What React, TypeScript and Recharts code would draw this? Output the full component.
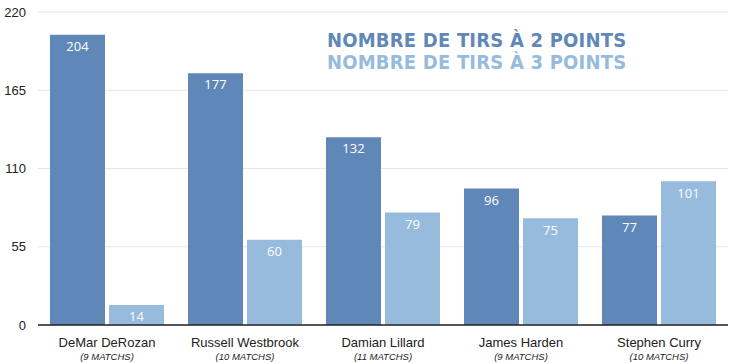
import { Bar, BarChart, CartesianGrid, LabelList, XAxis, YAxis } from 'recharts';

const players = ['DeMar DeRozan', 'Russell Westbrook', 'Damian Lillard', 'James Harden', 'Stephen Curry'];
const matches = ['(9 MATCHS)', '(10 MATCHS)', '(11 MATCHS)', '(9 MATCHS)', '(10 MATCHS)'];
const twoPoints = [204, 177, 132, 96, 77];
const threePoints = [14, 60, 79, 75, 101];
const yTicks = [0, 55, 110, 165, 220];

const DARK = '#5f88b8';
const LIGHT = '#96bbdc';

const data = players.map((name, i) => ({ name, matches: matches[i], two: twoPoints[i], three: threePoints[i] }));

function PlayerTick({ x, y, payload, index }: any) {
  return (
    <g transform={`translate(${x},${y})`}>
      <text y={14} textAnchor="middle" fontFamily="Liberation Sans, Arial" fontSize={13} fill="#222">
        {payload.value}
      </text>
      <text y={27} textAnchor="middle" fontFamily="Liberation Sans, Arial" fontStyle="italic" fontSize={9.5} fill="#222">
        {matches[index]}
      </text>
    </g>
  );
}

const titleStyle = {
  position: 'absolute' as const,
  left: 327,
  fontFamily: '"DejaVu Sans Condensed", "DejaVu Sans", sans-serif',
  fontWeight: 900,
  fontSize: 20,
  lineHeight: '22px',
  letterSpacing: 0.2,
  whiteSpace: 'nowrap' as const,
};

export default function App() {
  return (
    <div style={{ position: 'relative', width: 736, height: 363, background: '#fff' }}>
      <style>{`body{margin:0}`}</style>
      <BarChart
        width={736}
        height={363}
        data={data}
        margin={{ top: 12, right: 8, bottom: 0, left: 0 }}
        barCategoryGap={12}
        barGap={4}
      >
        <CartesianGrid vertical={false} stroke="#e6e6e6" />
        <XAxis
          dataKey="name"
          height={38}
          tickLine={false}
          axisLine={{ stroke: '#222', strokeWidth: 1.5 }}
          tick={<PlayerTick />}
          interval={0}
        />
        <YAxis
          width={38}
          domain={[0, 220]}
          ticks={yTicks}
          axisLine={false}
          tickLine={false}
          tickMargin={6}
          tick={{ fontSize: 13, fill: '#222', fontFamily: 'Liberation Sans, Arial' }}
        />
        <Bar dataKey="two" fill={DARK} isAnimationActive={false}>
          <LabelList dataKey="two" position="insideTop" offset={7} fill="#fff" fontSize={13} fontFamily="Open Sans, sans-serif" />
        </Bar>
        <Bar dataKey="three" fill={LIGHT} isAnimationActive={false}>
          <LabelList dataKey="three" position="insideTop" offset={7} fill="#fff" fontSize={13} fontFamily="Open Sans, sans-serif" />
        </Bar>
      </BarChart>
      <div style={{ ...titleStyle, top: 29, color: DARK }}>NOMBRE DE TIRS À 2 POINTS</div>
      <div style={{ ...titleStyle, top: 51, color: LIGHT }}>NOMBRE DE TIRS À 3 POINTS</div>
    </div>
  );
}
